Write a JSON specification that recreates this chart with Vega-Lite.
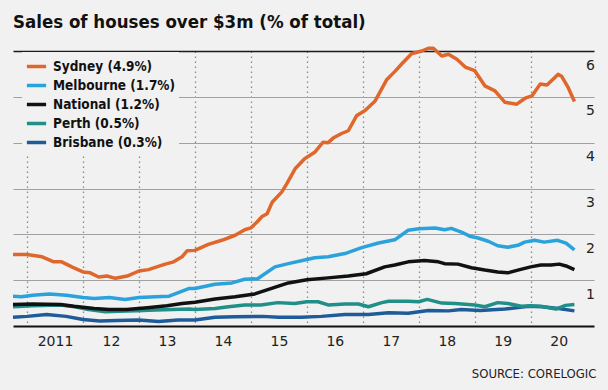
{
  "$schema": "https://vega.github.io/schema/vega-lite/v6.json",
  "width": 581,
  "height": 275,
  "autosize": {"type": "none"},
  "padding": {"left": 13, "top": 51, "right": 14, "bottom": 64},
  "background": "#f1f1f1",
  "config": {"view": {"stroke": null}, "font": "DejaVu Sans"},
  "title": {
    "text": "Sales of houses over $3m (% of total)",
    "anchor": "start",
    "frame": "group",
    "offset": 15,
    "font": "DejaVu Sans Condensed",
    "fontSize": 18.5,
    "fontWeight": "bold",
    "color": "#111111"
  },
  "data": {
    "values": [
      {"s": "Brisbane (0.3%)", "t": 2010.75, "v": 0.19},
      {"s": "Brisbane (0.3%)", "t": 2011.0, "v": 0.21},
      {"s": "Brisbane (0.3%)", "t": 2011.35, "v": 0.25},
      {"s": "Brisbane (0.3%)", "t": 2011.7, "v": 0.21},
      {"s": "Brisbane (0.3%)", "t": 2012.0, "v": 0.14},
      {"s": "Brisbane (0.3%)", "t": 2012.3, "v": 0.11},
      {"s": "Brisbane (0.3%)", "t": 2012.6, "v": 0.12},
      {"s": "Brisbane (0.3%)", "t": 2013.0, "v": 0.13},
      {"s": "Brisbane (0.3%)", "t": 2013.35, "v": 0.1},
      {"s": "Brisbane (0.3%)", "t": 2013.7, "v": 0.13},
      {"s": "Brisbane (0.3%)", "t": 2014.0, "v": 0.13},
      {"s": "Brisbane (0.3%)", "t": 2014.36, "v": 0.19},
      {"s": "Brisbane (0.3%)", "t": 2014.72, "v": 0.2},
      {"s": "Brisbane (0.3%)", "t": 2015.2, "v": 0.21},
      {"s": "Brisbane (0.3%)", "t": 2015.5, "v": 0.19},
      {"s": "Brisbane (0.3%)", "t": 2015.9, "v": 0.19},
      {"s": "Brisbane (0.3%)", "t": 2016.26, "v": 0.21},
      {"s": "Brisbane (0.3%)", "t": 2016.68, "v": 0.25},
      {"s": "Brisbane (0.3%)", "t": 2017.1, "v": 0.25},
      {"s": "Brisbane (0.3%)", "t": 2017.46, "v": 0.29},
      {"s": "Brisbane (0.3%)", "t": 2017.81, "v": 0.28},
      {"s": "Brisbane (0.3%)", "t": 2018.17, "v": 0.34},
      {"s": "Brisbane (0.3%)", "t": 2018.53, "v": 0.33},
      {"s": "Brisbane (0.3%)", "t": 2018.76, "v": 0.36},
      {"s": "Brisbane (0.3%)", "t": 2019.1, "v": 0.34},
      {"s": "Brisbane (0.3%)", "t": 2019.54, "v": 0.37},
      {"s": "Brisbane (0.3%)", "t": 2019.96, "v": 0.43},
      {"s": "Brisbane (0.3%)", "t": 2020.2, "v": 0.42},
      {"s": "Brisbane (0.3%)", "t": 2020.5, "v": 0.38},
      {"s": "Brisbane (0.3%)", "t": 2020.78, "v": 0.33},

      {"s": "Perth (0.5%)", "t": 2010.75, "v": 0.42},
      {"s": "Perth (0.5%)", "t": 2011.1, "v": 0.44},
      {"s": "Perth (0.5%)", "t": 2011.6, "v": 0.46},
      {"s": "Perth (0.5%)", "t": 2011.85, "v": 0.42},
      {"s": "Perth (0.5%)", "t": 2012.1, "v": 0.36},
      {"s": "Perth (0.5%)", "t": 2012.4, "v": 0.31},
      {"s": "Perth (0.5%)", "t": 2012.65, "v": 0.32},
      {"s": "Perth (0.5%)", "t": 2012.95, "v": 0.33},
      {"s": "Perth (0.5%)", "t": 2013.3, "v": 0.35},
      {"s": "Perth (0.5%)", "t": 2013.6, "v": 0.36},
      {"s": "Perth (0.5%)", "t": 2013.9, "v": 0.37},
      {"s": "Perth (0.5%)", "t": 2014.0, "v": 0.36},
      {"s": "Perth (0.5%)", "t": 2014.36, "v": 0.38},
      {"s": "Perth (0.5%)", "t": 2014.6, "v": 0.42},
      {"s": "Perth (0.5%)", "t": 2014.89, "v": 0.46},
      {"s": "Perth (0.5%)", "t": 2015.18, "v": 0.46},
      {"s": "Perth (0.5%)", "t": 2015.48, "v": 0.51},
      {"s": "Perth (0.5%)", "t": 2015.78, "v": 0.49},
      {"s": "Perth (0.5%)", "t": 2016.0, "v": 0.53},
      {"s": "Perth (0.5%)", "t": 2016.2, "v": 0.53},
      {"s": "Perth (0.5%)", "t": 2016.38, "v": 0.46},
      {"s": "Perth (0.5%)", "t": 2016.68, "v": 0.48},
      {"s": "Perth (0.5%)", "t": 2016.92, "v": 0.48},
      {"s": "Perth (0.5%)", "t": 2017.1, "v": 0.42},
      {"s": "Perth (0.5%)", "t": 2017.34, "v": 0.51},
      {"s": "Perth (0.5%)", "t": 2017.46, "v": 0.54},
      {"s": "Perth (0.5%)", "t": 2017.81, "v": 0.54},
      {"s": "Perth (0.5%)", "t": 2018.0, "v": 0.53},
      {"s": "Perth (0.5%)", "t": 2018.15, "v": 0.58},
      {"s": "Perth (0.5%)", "t": 2018.41, "v": 0.5},
      {"s": "Perth (0.5%)", "t": 2018.65, "v": 0.49},
      {"s": "Perth (0.5%)", "t": 2019.0, "v": 0.46},
      {"s": "Perth (0.5%)", "t": 2019.18, "v": 0.42},
      {"s": "Perth (0.5%)", "t": 2019.41, "v": 0.51},
      {"s": "Perth (0.5%)", "t": 2019.59, "v": 0.49},
      {"s": "Perth (0.5%)", "t": 2019.83, "v": 0.43},
      {"s": "Perth (0.5%)", "t": 2020.0, "v": 0.44},
      {"s": "Perth (0.5%)", "t": 2020.18, "v": 0.43},
      {"s": "Perth (0.5%)", "t": 2020.45, "v": 0.37},
      {"s": "Perth (0.5%)", "t": 2020.62, "v": 0.45},
      {"s": "Perth (0.5%)", "t": 2020.78, "v": 0.47},

      {"s": "National (1.2%)", "t": 2010.75, "v": 0.47},
      {"s": "National (1.2%)", "t": 2011.1, "v": 0.48},
      {"s": "National (1.2%)", "t": 2011.6, "v": 0.47},
      {"s": "National (1.2%)", "t": 2011.84, "v": 0.43},
      {"s": "National (1.2%)", "t": 2012.2, "v": 0.38},
      {"s": "National (1.2%)", "t": 2012.47, "v": 0.36},
      {"s": "National (1.2%)", "t": 2012.78, "v": 0.36},
      {"s": "National (1.2%)", "t": 2013.15, "v": 0.4},
      {"s": "National (1.2%)", "t": 2013.5, "v": 0.44},
      {"s": "National (1.2%)", "t": 2013.77, "v": 0.49},
      {"s": "National (1.2%)", "t": 2014.0, "v": 0.52},
      {"s": "National (1.2%)", "t": 2014.36, "v": 0.59},
      {"s": "National (1.2%)", "t": 2014.72, "v": 0.64},
      {"s": "National (1.2%)", "t": 2015.07, "v": 0.7},
      {"s": "National (1.2%)", "t": 2015.37, "v": 0.82},
      {"s": "National (1.2%)", "t": 2015.67, "v": 0.94},
      {"s": "National (1.2%)", "t": 2016.0, "v": 1.01},
      {"s": "National (1.2%)", "t": 2016.38, "v": 1.05},
      {"s": "National (1.2%)", "t": 2016.74, "v": 1.09},
      {"s": "National (1.2%)", "t": 2017.06, "v": 1.14},
      {"s": "National (1.2%)", "t": 2017.39, "v": 1.29},
      {"s": "National (1.2%)", "t": 2017.57, "v": 1.33},
      {"s": "National (1.2%)", "t": 2017.81, "v": 1.4},
      {"s": "National (1.2%)", "t": 2018.1, "v": 1.43},
      {"s": "National (1.2%)", "t": 2018.35, "v": 1.4},
      {"s": "National (1.2%)", "t": 2018.46, "v": 1.36},
      {"s": "National (1.2%)", "t": 2018.7, "v": 1.35},
      {"s": "National (1.2%)", "t": 2018.94, "v": 1.27},
      {"s": "National (1.2%)", "t": 2019.18, "v": 1.22},
      {"s": "National (1.2%)", "t": 2019.41, "v": 1.18},
      {"s": "National (1.2%)", "t": 2019.59, "v": 1.16},
      {"s": "National (1.2%)", "t": 2019.77, "v": 1.22},
      {"s": "National (1.2%)", "t": 2020.0, "v": 1.29},
      {"s": "National (1.2%)", "t": 2020.18, "v": 1.33},
      {"s": "National (1.2%)", "t": 2020.36, "v": 1.33},
      {"s": "National (1.2%)", "t": 2020.51, "v": 1.35},
      {"s": "National (1.2%)", "t": 2020.63, "v": 1.31},
      {"s": "National (1.2%)", "t": 2020.78, "v": 1.23},

      {"s": "Melbourne (1.7%)", "t": 2010.75, "v": 0.65},
      {"s": "Melbourne (1.7%)", "t": 2010.9, "v": 0.64},
      {"s": "Melbourne (1.7%)", "t": 2011.1, "v": 0.67},
      {"s": "Melbourne (1.7%)", "t": 2011.4, "v": 0.7},
      {"s": "Melbourne (1.7%)", "t": 2011.7, "v": 0.67},
      {"s": "Melbourne (1.7%)", "t": 2012.0, "v": 0.62},
      {"s": "Melbourne (1.7%)", "t": 2012.2, "v": 0.6},
      {"s": "Melbourne (1.7%)", "t": 2012.47, "v": 0.62},
      {"s": "Melbourne (1.7%)", "t": 2012.75, "v": 0.58},
      {"s": "Melbourne (1.7%)", "t": 2013.0, "v": 0.62},
      {"s": "Melbourne (1.7%)", "t": 2013.3, "v": 0.64},
      {"s": "Melbourne (1.7%)", "t": 2013.54, "v": 0.65},
      {"s": "Melbourne (1.7%)", "t": 2013.75, "v": 0.75},
      {"s": "Melbourne (1.7%)", "t": 2013.9, "v": 0.82},
      {"s": "Melbourne (1.7%)", "t": 2014.0, "v": 0.82},
      {"s": "Melbourne (1.7%)", "t": 2014.36, "v": 0.91},
      {"s": "Melbourne (1.7%)", "t": 2014.66, "v": 0.94},
      {"s": "Melbourne (1.7%)", "t": 2014.89, "v": 1.02},
      {"s": "Melbourne (1.7%)", "t": 2015.12, "v": 1.03},
      {"s": "Melbourne (1.7%)", "t": 2015.43, "v": 1.29},
      {"s": "Melbourne (1.7%)", "t": 2015.67, "v": 1.36},
      {"s": "Melbourne (1.7%)", "t": 2016.0, "v": 1.45},
      {"s": "Melbourne (1.7%)", "t": 2016.14, "v": 1.49},
      {"s": "Melbourne (1.7%)", "t": 2016.38, "v": 1.51},
      {"s": "Melbourne (1.7%)", "t": 2016.68, "v": 1.58},
      {"s": "Melbourne (1.7%)", "t": 2016.98, "v": 1.71},
      {"s": "Melbourne (1.7%)", "t": 2017.28, "v": 1.81},
      {"s": "Melbourne (1.7%)", "t": 2017.57, "v": 1.88},
      {"s": "Melbourne (1.7%)", "t": 2017.81, "v": 2.09},
      {"s": "Melbourne (1.7%)", "t": 2018.0, "v": 2.12},
      {"s": "Melbourne (1.7%)", "t": 2018.29, "v": 2.14},
      {"s": "Melbourne (1.7%)", "t": 2018.46, "v": 2.1},
      {"s": "Melbourne (1.7%)", "t": 2018.58, "v": 2.13},
      {"s": "Melbourne (1.7%)", "t": 2018.76, "v": 2.05},
      {"s": "Melbourne (1.7%)", "t": 2018.91, "v": 1.96},
      {"s": "Melbourne (1.7%)", "t": 2019.06, "v": 1.92},
      {"s": "Melbourne (1.7%)", "t": 2019.24, "v": 1.85},
      {"s": "Melbourne (1.7%)", "t": 2019.41, "v": 1.75},
      {"s": "Melbourne (1.7%)", "t": 2019.59, "v": 1.72},
      {"s": "Melbourne (1.7%)", "t": 2019.77, "v": 1.76},
      {"s": "Melbourne (1.7%)", "t": 2019.89, "v": 1.83},
      {"s": "Melbourne (1.7%)", "t": 2020.07, "v": 1.87},
      {"s": "Melbourne (1.7%)", "t": 2020.24, "v": 1.83},
      {"s": "Melbourne (1.7%)", "t": 2020.48, "v": 1.87},
      {"s": "Melbourne (1.7%)", "t": 2020.63, "v": 1.81},
      {"s": "Melbourne (1.7%)", "t": 2020.78, "v": 1.66},

      {"s": "Sydney (4.9%)", "t": 2010.75, "v": 1.56},
      {"s": "Sydney (4.9%)", "t": 2011.0, "v": 1.56},
      {"s": "Sydney (4.9%)", "t": 2011.27, "v": 1.51},
      {"s": "Sydney (4.9%)", "t": 2011.48, "v": 1.4},
      {"s": "Sydney (4.9%)", "t": 2011.62, "v": 1.4},
      {"s": "Sydney (4.9%)", "t": 2011.8, "v": 1.29},
      {"s": "Sydney (4.9%)", "t": 2012.0, "v": 1.18},
      {"s": "Sydney (4.9%)", "t": 2012.13, "v": 1.16},
      {"s": "Sydney (4.9%)", "t": 2012.28, "v": 1.07},
      {"s": "Sydney (4.9%)", "t": 2012.43, "v": 1.09},
      {"s": "Sydney (4.9%)", "t": 2012.58, "v": 1.04},
      {"s": "Sydney (4.9%)", "t": 2012.79, "v": 1.09},
      {"s": "Sydney (4.9%)", "t": 2013.0, "v": 1.2},
      {"s": "Sydney (4.9%)", "t": 2013.17, "v": 1.23},
      {"s": "Sydney (4.9%)", "t": 2013.32, "v": 1.29},
      {"s": "Sydney (4.9%)", "t": 2013.47, "v": 1.35},
      {"s": "Sydney (4.9%)", "t": 2013.62, "v": 1.4},
      {"s": "Sydney (4.9%)", "t": 2013.77, "v": 1.51},
      {"s": "Sydney (4.9%)", "t": 2013.86, "v": 1.64},
      {"s": "Sydney (4.9%)", "t": 2014.0, "v": 1.65},
      {"s": "Sydney (4.9%)", "t": 2014.24, "v": 1.78},
      {"s": "Sydney (4.9%)", "t": 2014.48, "v": 1.87},
      {"s": "Sydney (4.9%)", "t": 2014.72, "v": 1.98},
      {"s": "Sydney (4.9%)", "t": 2014.89, "v": 2.1},
      {"s": "Sydney (4.9%)", "t": 2015.0, "v": 2.14},
      {"s": "Sydney (4.9%)", "t": 2015.11, "v": 2.27},
      {"s": "Sydney (4.9%)", "t": 2015.2, "v": 2.39},
      {"s": "Sydney (4.9%)", "t": 2015.29, "v": 2.45},
      {"s": "Sydney (4.9%)", "t": 2015.38, "v": 2.7},
      {"s": "Sydney (4.9%)", "t": 2015.55, "v": 2.92},
      {"s": "Sydney (4.9%)", "t": 2015.64, "v": 3.1},
      {"s": "Sydney (4.9%)", "t": 2015.79, "v": 3.43},
      {"s": "Sydney (4.9%)", "t": 2015.96, "v": 3.65},
      {"s": "Sydney (4.9%)", "t": 2016.14, "v": 3.79},
      {"s": "Sydney (4.9%)", "t": 2016.29, "v": 4.01},
      {"s": "Sydney (4.9%)", "t": 2016.38, "v": 4.0},
      {"s": "Sydney (4.9%)", "t": 2016.47, "v": 4.1},
      {"s": "Sydney (4.9%)", "t": 2016.62, "v": 4.2},
      {"s": "Sydney (4.9%)", "t": 2016.74, "v": 4.26},
      {"s": "Sydney (4.9%)", "t": 2016.89, "v": 4.59},
      {"s": "Sydney (4.9%)", "t": 2017.04, "v": 4.7},
      {"s": "Sydney (4.9%)", "t": 2017.22, "v": 4.91},
      {"s": "Sydney (4.9%)", "t": 2017.43, "v": 5.38},
      {"s": "Sydney (4.9%)", "t": 2017.57, "v": 5.55},
      {"s": "Sydney (4.9%)", "t": 2017.69, "v": 5.71},
      {"s": "Sydney (4.9%)", "t": 2017.87, "v": 5.94},
      {"s": "Sydney (4.9%)", "t": 2018.05, "v": 6.0},
      {"s": "Sydney (4.9%)", "t": 2018.17, "v": 6.06},
      {"s": "Sydney (4.9%)", "t": 2018.26, "v": 6.06},
      {"s": "Sydney (4.9%)", "t": 2018.41, "v": 5.89},
      {"s": "Sydney (4.9%)", "t": 2018.53, "v": 5.93},
      {"s": "Sydney (4.9%)", "t": 2018.68, "v": 5.82},
      {"s": "Sydney (4.9%)", "t": 2018.83, "v": 5.65},
      {"s": "Sydney (4.9%)", "t": 2019.0, "v": 5.57},
      {"s": "Sydney (4.9%)", "t": 2019.18, "v": 5.24},
      {"s": "Sydney (4.9%)", "t": 2019.36, "v": 5.13},
      {"s": "Sydney (4.9%)", "t": 2019.54, "v": 4.88},
      {"s": "Sydney (4.9%)", "t": 2019.75, "v": 4.84},
      {"s": "Sydney (4.9%)", "t": 2019.9, "v": 4.97},
      {"s": "Sydney (4.9%)", "t": 2020.02, "v": 5.02},
      {"s": "Sydney (4.9%)", "t": 2020.17, "v": 5.28},
      {"s": "Sydney (4.9%)", "t": 2020.29, "v": 5.26},
      {"s": "Sydney (4.9%)", "t": 2020.49, "v": 5.49},
      {"s": "Sydney (4.9%)", "t": 2020.55, "v": 5.45},
      {"s": "Sydney (4.9%)", "t": 2020.67, "v": 5.2},
      {"s": "Sydney (4.9%)", "t": 2020.78, "v": 4.9}
    ]
  },
  "mark": {"type": "line", "strokeWidth": 3.5, "strokeJoin": "round", "strokeCap": "butt", "clip": false},
  "encoding": {
    "x": {
      "field": "t",
      "type": "quantitative",
      "scale": {"domain": [2010.75, 2021.13], "nice": false, "zero": false},
      "axis": {
        "values": [2011, 2012, 2013, 2014, 2015, 2016, 2017, 2018, 2019, 2020],
        "title": "SOURCE: CORELOGIC",
        "titleAnchor": "end",
        "titleAlign": "right",
        "titleX": 583,
        "titleFont": "DejaVu Sans Condensed",
        "titleFontSize": 13,
        "titleFontWeight": "normal",
        "titleColor": "#222222",
        "titlePadding": 19,
        "grid": true,
        "gridDash": [1.5, 3.5],
        "gridColor": "#888888",
        "gridWidth": 1.3,
        "ticks": false,
        "tickSize": 0,
        "domainColor": "#111111",
        "domainWidth": 2,
        "labelOffset": 28,
        "labelPadding": 8,
        "labelFontSize": 14,
        "labelColor": "#222222",
        "labelFlush": false,
        "labelOverlap": false,
        "labelExpr": "datum.value == 2011 ? '2011' : slice(toString(datum.value), 2)"
      }
    },
    "y": {
      "field": "v",
      "type": "quantitative",
      "scale": {"domain": [0, 6], "nice": false},
      "axis": {
        "orient": "right",
        "values": [1, 2, 3, 4, 5, 6],
        "title": null,
        "domain": false,
        "ticks": false,
        "tickSize": 0,
        "grid": true,
        "gridColor": {"condition": {"test": "datum.value == 6", "value": "#1a1a1a"}, "value": "#a0a0a0"},
        "gridWidth": {"condition": {"test": "datum.value == 6", "value": 1.5}, "value": 1.2},
        "labelAlign": "center",
        "labelBaseline": "top",
        "labelPadding": -4,
        "labelOffset": 7,
        "labelFontSize": 14,
        "labelColor": "#222222",
        "labelFlush": false,
        "labelOverlap": false
      }
    },
    "color": {
      "field": "s",
      "type": "nominal",
      "scale": {
        "domain": ["Sydney (4.9%)", "Melbourne (1.7%)", "National (1.2%)", "Perth (0.5%)", "Brisbane (0.3%)"],
        "range": ["#e0672b", "#2aa2dc", "#111111", "#1f8f88", "#1d5c98"]
      },
      "legend": {
        "orient": "none",
        "legendX": 9,
        "legendY": 1,
        "direction": "vertical",
        "title": null,
        "symbolType": "stroke",
        "symbolSize": 370,
        "symbolStrokeWidth": 3.5,
        "labelFont": "DejaVu Sans Condensed",
        "labelFontSize": 13.5,
        "labelFontWeight": "bold",
        "labelColor": "#111111",
        "labelOffset": 5,
        "rowPadding": 0,
        "padding": 3,
        "fillColor": "#f1f1f1"
      }
    }
  }
}
